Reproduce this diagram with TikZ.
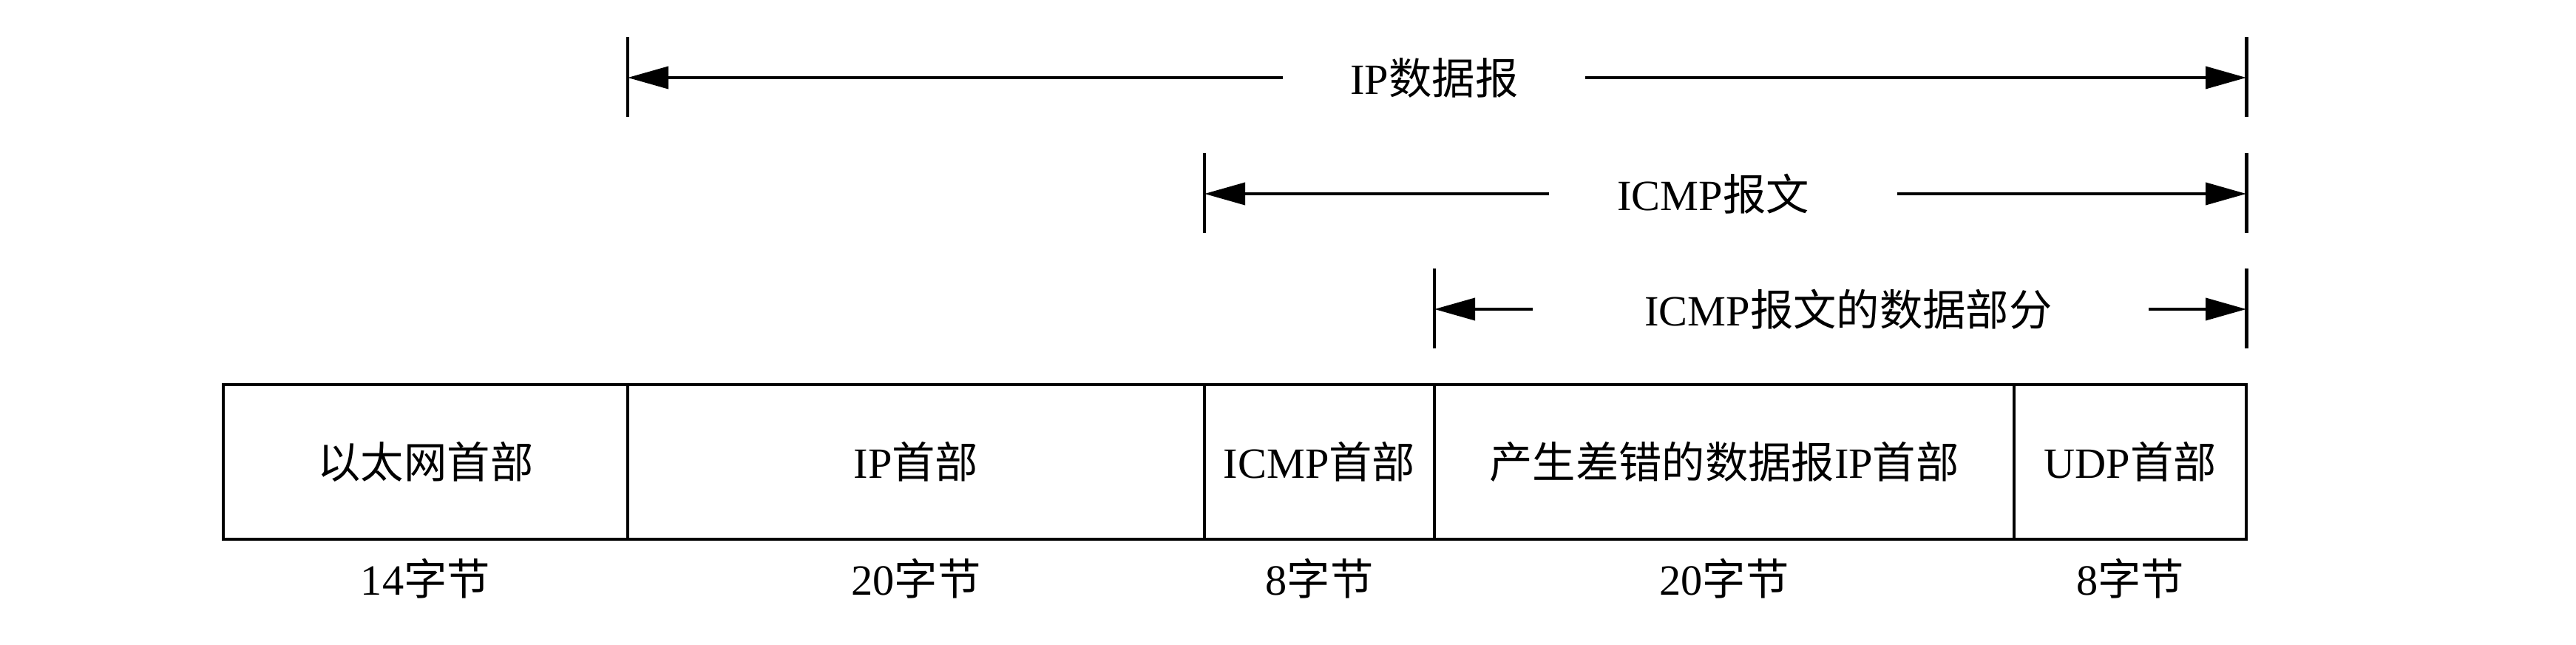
\documentclass[tikz,border=0pt]{standalone}
\usepackage{fontspec}
\setmainfont{Liberation Serif}
\newfontfamily\cjk{Noto Sans CJK SC}
\newcommand{\zh}[1]{{\cjk #1}}
\usetikzlibrary{arrows.meta, positioning, calc}

\begin{document}
\begin{tikzpicture}[
    font=\fontsize{16.6}{20}\selectfont,
    % Style definitions
    field/.style={draw, line width=1.35pt, minimum height=2.09cm, inner sep=0pt, outer sep=0pt},
    bytes/.style={inner sep=0pt},
    dimlabel/.style={inner sep=0pt},
    tickline/.style={line width=1.4pt},
    dimline/.style={-{Triangle[length=0.55cm, width=0.3cm]}, line width=1.1pt},
]
\useasboundingbox (0,0) rectangle (34.84,8.72);

%% ---------- HEADER FIELDS ----------
\node[field, minimum width=5.47cm, anchor=north west] (eth) at (3.02,3.52) {\zh{以太网首部}};
\node[field, minimum width=7.80cm, right=0pt of eth] (iphdr) {IP\zh{首部}};
\node[field, minimum width=3.11cm, right=0pt of iphdr] (icmphdr) {ICMP\zh{首部}};
\node[field, minimum width=7.84cm, right=0pt of icmphdr] (errhdr) {\zh{产生差错的数据报}IP\zh{首部}};
\node[field, minimum width=3.14cm, right=0pt of errhdr] (udphdr) {UDP\zh{首部}};

%% ---------- FIELD SIZES ----------
\node[bytes] (eth_len) at ($(eth.south)+(0,-0.53)$) {14\zh{字节}};
\node[bytes] (iphdr_len) at ($(iphdr.south)+(0,-0.53)$) {20\zh{字节}};
\node[bytes] (icmphdr_len) at ($(icmphdr.south)+(0,-0.53)$) {8\zh{字节}};
\node[bytes] (errhdr_len) at ($(errhdr.south)+(0,-0.53)$) {20\zh{字节}};
\node[bytes] (udphdr_len) at ($(udphdr.south)+(0,-0.53)$) {8\zh{字节}};

%% ---------- SPANS ----------
\coordinate (ipd_l) at (iphdr.west |- 0,7.67);
\coordinate (ipd_r) at (udphdr.east |- 0,7.67);
\coordinate (msg_l) at (icmphdr.west |- 0,6.10);
\coordinate (msg_r) at (udphdr.east |- 0,6.10);
\coordinate (data_l) at (errhdr.west |- 0,4.54);
\coordinate (data_r) at (udphdr.east |- 0,4.54);

\node[dimlabel] (ipd) at (19.40,7.67) {IP\zh{数据报}};
\node[dimlabel] (msg) at (23.17,6.10) {ICMP\zh{报文}};
\node[dimlabel] (data) at (25.00,4.54) {ICMP\zh{报文的数据部分}};

% end ticks
\foreach \c in {ipd_l, ipd_r, msg_l, msg_r, data_l, data_r}
    \draw[tickline] ($(\c)+(0,0.55)$) -- ($(\c)+(0,-0.53)$);

% arrows
\draw[dimline] ([xshift=-2.05cm]ipd.center) -- (ipd_l);
\draw[dimline] ([xshift=2.04cm]ipd.center) -- (ipd_r);
\draw[dimline] ([xshift=-2.22cm]msg.center) -- (msg_l);
\draw[dimline] ([xshift=2.49cm]msg.center) -- (msg_r);
\draw[dimline] ([xshift=-4.27cm]data.center) -- (data_l);
\draw[dimline] ([xshift=4.06cm]data.center) -- (data_r);

\end{tikzpicture}
\end{document}
